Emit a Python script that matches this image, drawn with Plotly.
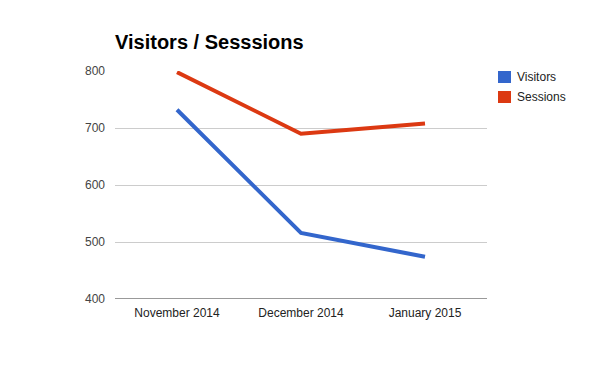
import plotly.graph_objects as go

months = ["November 2014", "December 2014", "January 2015"]
visitors = [732, 516, 474]
sessions = [798, 690, 708]
y_ticks = [400, 500, 600, 700, 800]
series_names = ["Visitors", "Sessions"]

blue = "#3366cc"
red = "#dc3912"
colors = [blue, red]

# plot area (as seen on page): x 115..487, y 71..299 ; page body has 8px offset
PL, PR, PT, PB = 115, 487, 71, 299
OFF = 8
W, H = 600, 371


def px(x):
    return (x - PL) / (PR - PL)


def py(y):
    return (PB - y) / (PB - PT)


fig = go.Figure()
for name, vals, col in zip(series_names, [visitors, sessions], colors):
    fig.add_trace(go.Scatter(x=months, y=vals, mode="lines", name=name,
                             line=dict(color=col, width=4), showlegend=False))

fig.update_layout(
    width=W, height=H,
    paper_bgcolor="white", plot_bgcolor="white",
    margin=dict(l=PL - OFF, r=W - (PR - OFF), t=PT - OFF, b=H - (PB - OFF)),
    font=dict(family="Arial, Liberation Sans, sans-serif", size=12, color="#444"),
    title=dict(text="<b>Visitors / Sesssions</b>", x=(PL - OFF) / W, xanchor="left",
               y=1 - (42 - OFF) / H, yanchor="middle",
               font=dict(size=20, color="#000", family="Arial, Liberation Sans, sans-serif")),
    xaxis=dict(type="category", range=[-0.5, 2.5], showgrid=False,
               showline=False, ticks="", tickfont=dict(color="#222"),
               ticklabelstandoff=5),
    yaxis=dict(range=[400, 800], tickvals=y_ticks, showgrid=True,
               gridcolor="#cccccc", gridwidth=1, zeroline=False,
               ticks="", ticklen=0, tickfont=dict(color="#444"), automargin=False,
               ticklabelstandoff=9),
    showlegend=False,
)
fig.add_shape(type="line", xref="paper", yref="y", x0=0, x1=1, y0=400, y1=400,
              line=dict(color="#333", width=1))

# legend drawn manually (square swatches + labels)
for i, (name, col) in enumerate(zip(series_names, colors)):
    top = 71 + i * 20
    fig.add_shape(type="rect", xref="paper", yref="paper",
                  x0=px(498), x1=px(511), y0=py(top), y1=py(top + 12),
                  fillcolor=col, line=dict(width=0))
    fig.add_annotation(xref="paper", yref="paper", x=px(515), y=py(top + 6),
                       text=name, showarrow=False, xanchor="left", yanchor="middle",
                       font=dict(size=12, color="#222"))

fig.write_html("out.html")
